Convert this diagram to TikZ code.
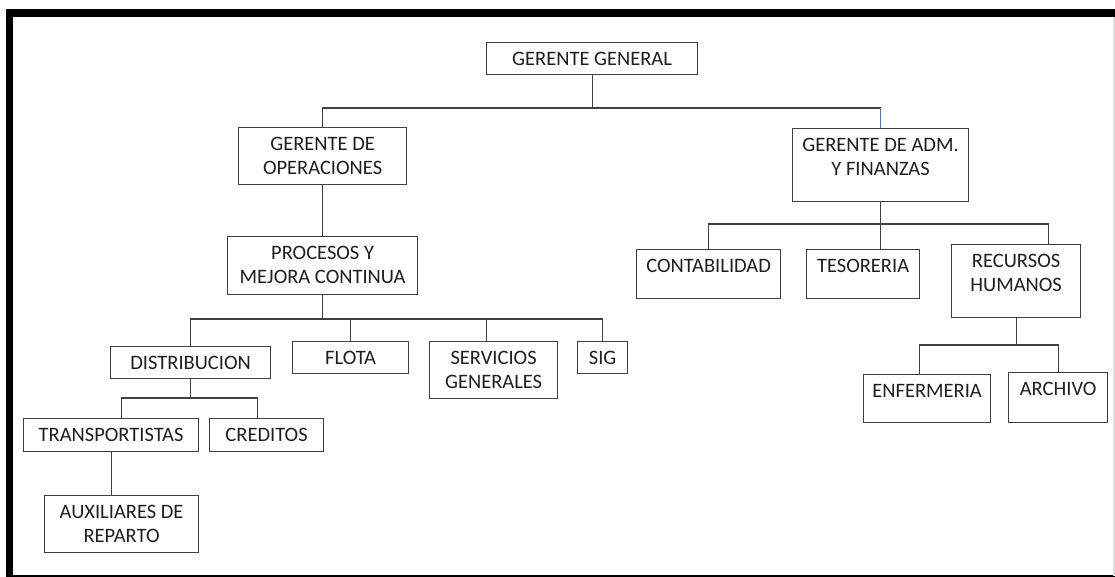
\documentclass[tikz,border=0pt]{standalone}
\usepackage{fontspec}
\setmainfont{Carlito}
\usepackage{tikz}
\definecolor{linegray}{RGB}{64,64,64}
\definecolor{textgray}{RGB}{30,30,30}
\definecolor{linkblue}{RGB}{68,114,196}
\tikzstyle{box}=[
        draw = linegray,
        line width = 1.2pt,
        anchor = north west,
        inner sep = 0pt,
        align = center,
        text = textgray,
        text height = 23pt,
        font = \fontsize{20.5}{24}\selectfont
    ]
\tikzstyle{box2}=[
    box,
    text height = 47pt
]
\tikzstyle{link}=[
    draw = linegray,
    line width = 1.2pt
]

\begin{document}
\begin{tikzpicture}[x=1pt, y=-1pt]
        \useasboundingbox (0,0) rectangle (1115,577);
        % frame
        \fill (6,9) rectangle (1115,17);
        \fill (6,9) rectangle (13,577);
        \draw[line width=1.5pt] (13,576) -- (1115,576);
        \draw[line width=1.5pt, black!12] (1114,17) -- (1114,576);

        \node[box, minimum width=211pt, text depth=9pt] (gg) at (486,42) {GERENTE GENERAL};
        \node[box2, minimum width=168pt, text depth=10pt] (gop) at (238,127) {GERENTE DE\\OPERACIONES};
        \node[box2, minimum width=176pt, text depth=26pt] (gaf) at (792,128) {GERENTE DE ADM.\\Y FINANZAS};
        \node[box2, minimum width=190pt, text depth=11pt] (pmc) at (227,236) {PROCESOS Y\\MEJORA CONTINUA};
        \node[box, minimum width=160pt, text depth=9pt] (dist) at (110,346) {DISTRIBUCION};
        \node[box, minimum width=116pt, text depth=9pt] (flota) at (292,341) {FLOTA};
        \node[box2, minimum width=128pt, text depth=10pt] (sg) at (429,341) {SERVICIOS\\GENERALES};
        \node[box, minimum width=50pt, text depth=9pt] (sig) at (577,341) {SIG};
        \node[box, minimum width=175pt, text depth=10pt] (trans) at (23,418) {TRANSPORTISTAS};
        \node[box, minimum width=114pt, text depth=10pt] (cred) at (209,418) {CREDITOS};
        \node[box2, minimum width=154pt, text depth=10pt] (aux) at (44,495) {AUXILIARES DE\\REPARTO};
        \node[box, minimum width=144pt, text depth=26pt] (cont) at (636,249) {CONTABILIDAD};
        \node[box, minimum width=113pt, text depth=26pt] (tes) at (806,249) {TESORERIA};
        \node[box2, minimum width=129pt, text depth=26pt] (rh) at (951,244) {RECURSOS\\HUMANOS};
        \node[box, minimum width=127pt, text depth=25pt] (enf) at (863,374) {ENFERMERIA};
        \node[box, minimum width=99pt, text depth=27pt] (arch) at (1008,372) {ARCHIVO};

        \coordinate (ggbus) at (591,108);
        \coordinate (pmcbus) at (322,319);
        \coordinate (distbus) at (190,398);
        \coordinate (gafbus) at (880,224);
        \coordinate (rhbus) at (1016,345);

        \draw[link] (gg.south) -- (gg.south |- ggbus);
        \draw[link] (gop.north) |- (gaf.north |- ggbus);
        \draw[link, draw=linkblue] (gaf.north |- ggbus) -- (gaf.north);
        \draw[link] (gop.south) -- (pmc.north);

        \draw[link] (pmc.south) -- (pmc.south |- pmcbus);
        \draw[link] (dist.north) |- (sig.north |- pmcbus) -- (sig.north);
        \draw[link] (flota.north) -- (flota.north |- pmcbus);
        \draw[link] ([xshift=-7pt]sg.north) -- ([xshift=-7pt]sg.north |- pmcbus);

        \draw[link] (dist.south) -- (dist.south |- distbus);
        \draw[link] ([xshift=10.5pt]trans.north) |- (distbus) -| ([xshift=-9pt]cred.north);
        \draw[link] (trans.south) -- (trans.south |- aux.north);

        \draw[link] (gaf.south) -- (gaf.south |- tes.north);
        \draw[link] (cont.north) |- ([xshift=32.5pt]rh.north |- gafbus) -- ([xshift=32.5pt]rh.north);
        \draw[link] (rh.south) -- (rh.south |- rhbus);
        \draw[link] ([xshift=-7.5pt]enf.north) |- (arch.north |- rhbus) -- (arch.north);

    \end{tikzpicture}
\end{document}
